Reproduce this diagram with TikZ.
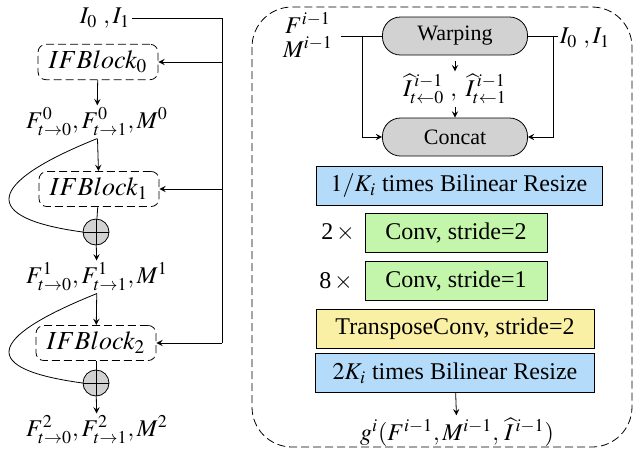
\documentclass[tikz,border=0pt]{standalone}
\usepackage{mathptmx}
\usepackage{fontspec}
\setmainfont{Liberation Serif}
\newfontfamily\timesfont{Liberation Serif}
\usetikzlibrary{positioning}

\definecolor{resizeblue}{RGB}{180,220,250}
\definecolor{convgreen}{RGB}{195,245,170}
\definecolor{tconvyellow}{RGB}{250,240,165}
\definecolor{opgray}{RGB}{210,210,210}

\newcommand{\plusnode}[2]{\node[plus] (#1) at (#2) {};}

\begin{document}
\begin{tikzpicture}
                [x=0.5pt,y=-0.5pt,
                ifblock/.style={rectangle,draw,dash pattern=on 4pt off 2pt,rounded corners=4pt,minimum width=60pt,minimum height=16.5pt,font=\fontsize{13}{15}\selectfont},
                op/.style={rectangle,draw,fill=opgray,rounded corners=9pt,minimum width=72.5pt,minimum height=19pt,font=\timesfont\fontsize{11}{13}\selectfont},
                layer/.style={rectangle,draw,minimum height=19.5pt,inner sep=0pt,font=\timesfont\fontsize{12}{14}\selectfont},
                plus/.style={circle,draw,fill=opgray,minimum size=13pt,inner sep=0pt,
                    path picture={\draw (path picture bounding box.north) -- (path picture bounding box.south)
                        (path picture bounding box.west) -- (path picture bounding box.east);}},
                lbl/.style={inner sep=1pt,font=\timesfont\fontsize{12}{14}\selectfont},
                arrow/.style={->,>=stealth},
                ]
                \useasboundingbox (0,0) rectangle (634,452);
                % left column: three IF blocks
                \node[lbl] (in) at (105,18) {$I_0\ ,I_1$};
                \node[ifblock] (b0) at (98,62) {$IFBlock_0$};
                \node[lbl] (f0) at (97,122) {$F^0_{t\to0}, F^0_{t\to1}, M^0$};
                \node[ifblock] (b1) at (99,189) {$IFBlock_1$};
                \plusnode{p1}{96,232}
                \node[lbl] (f1) at (97,277) {$F^1_{t\to0}, F^1_{t\to1}, M^1$};
                \node[ifblock] (b2) at (96,343) {$IFBlock_2$};
                \plusnode{p2}{96,383}
                \node[lbl] (f2) at (97,430) {$F^2_{t\to0}, F^2_{t\to1}, M^2$};
                \coordinate (railtop) at (222,18);
                \coordinate (railbot) at (222,343);
                \draw (in.east) -- (railtop) -- (railbot);
                \draw[arrow] (railtop |- b0.east) -- (b0.east);
                \draw[arrow] (railtop |- b1.east) -- (b1.east);
                \draw[arrow] (railbot) -- (b2.east);
                \draw[arrow] (b0) -- (f0);
                \draw[arrow] (f0) -- (b1);
                \draw (b1) -- (p1);
                \draw[arrow] (p1) -- (f1);
                \draw[arrow] (f1) -- (b2);
                \draw (b2) -- (p2);
                \draw[arrow] (p2) -- (f2);
                % residual paths
                \draw (f0.south) .. controls +(-112,45) and +(-103,-14) .. (p1.west);
                \draw (f1.south) .. controls +(-112,45) and +(-103,-14) .. (p2.west);

                % right panel: one IF block in detail
                \draw[dash pattern=on 4pt off 2pt,rounded corners=20pt] (252,7) rectangle (632,447);
                \node[lbl,align=center,inner xsep=4pt] (fm) at (308,35) {$F^{i-1}$\\[-2pt]$M^{i-1}$};
                \node[op] (warp) at (455,36) {Warping};
                \node[lbl] (iin) at (585,38) {$I_0\ ,I_1$};
                \node[lbl] (ihat) at (455,89) {$\widehat{I}^{\,i-1}_{t\leftarrow0}\ ,\ \widehat{I}^{\,i-1}_{t\leftarrow1}$};
                \node[op] (concat) at (455,137) {Concat};
                \node[layer,fill=resizeblue,minimum width=143pt] (down) at (459,186) {$1/K_i$ times Bilinear Resize};
                \node[layer,fill=convgreen,minimum width=91pt] (conv2) at (456,233) {Conv, stride=2};
                \node[lbl] (n2) at (338,233) {2$\,\times$};
                \node[layer,fill=convgreen,minimum width=91pt] (conv1) at (456,281) {Conv, stride=1};
                \node[lbl] (n8) at (336,282) {8$\,\times$};
                \node[layer,fill=tconvyellow,minimum width=139pt] (tconv) at (455,329) {TransposeConv, stride=2};
                \node[layer,fill=resizeblue,minimum width=139.5pt] (up) at (455,373) {$2K_i$ times Bilinear Resize};
                \node[lbl] (out) at (457,432) {$g^i(F^{i-1},M^{i-1},\,\widehat{I}^{\,i-1})$};
                \coordinate (fmsplit) at (362,36);
                \coordinate (iinsplit) at (553,36);
                \draw (fm.east |- warp.west) -- (warp.west);
                \draw[arrow] (fmsplit) |- (concat.west);
                \draw (warp.east) -- (iin.west |- warp.east);
                \draw[arrow] (iinsplit) |- (concat.east);
                \draw[arrow,shorten <=3pt] (warp) -- (ihat);
                \draw[arrow] (ihat) -- (concat);
                \draw[arrow] (up) -- (out);
            \end{tikzpicture}
\end{document}
